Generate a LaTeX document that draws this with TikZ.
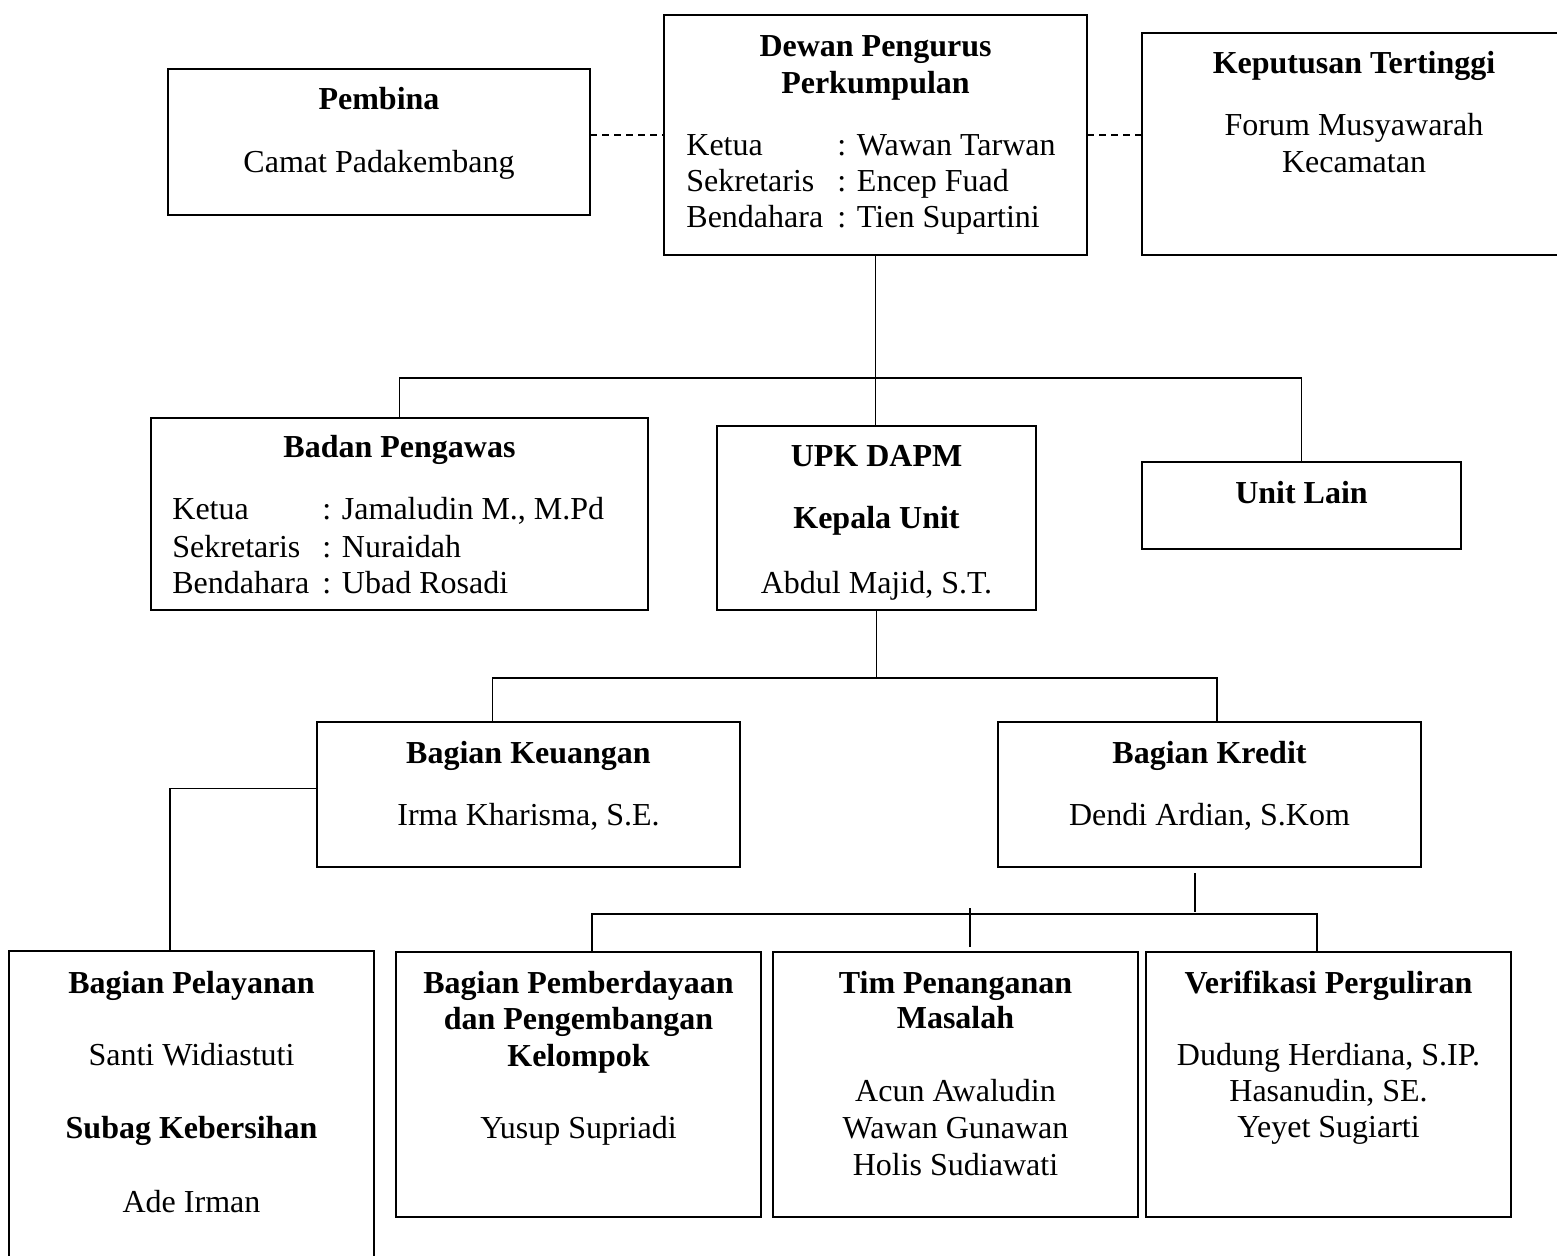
\documentclass[tikz,border=0pt]{standalone}
\usepackage{fontspec}
\setmainfont{Liberation Serif}
\usetikzlibrary{fit,calc}
\begin{document}
\begin{tikzpicture}[x=0.5pt,y=-0.5pt,
  font=\fontsize{16}{18.5}\selectfont,
  box/.style={draw, line width=1.1pt, inner sep=0pt, outer sep=0pt},
  conn/.style={line width=0.9pt},
  dashline/.style={line width=0.9pt, dash pattern=on 3.5pt off 2.5pt},
  t/.style={anchor=base, inner sep=0pt},
  tb/.style={anchor=base, inner sep=0pt, font=\fontsize{16}{18.5}\selectfont\bfseries},
  tl/.style={anchor=base west, inner sep=0pt}]
\useasboundingbox (0,0) rectangle (1557,1256);
\clip (0,0) rectangle (1557,1256);
% boxes
\node[box, fit={(168,69)(590,215)}] (pembina) {};
\node[box, fit={(664,15)(1087,255)}] (dewan) {};
\node[box, fit={(1142,33)(1566,255)}] (kep) {};
\node[box, fit={(151,418)(648,610)}] (badan) {};
\node[box, fit={(717,426)(1036,610)}] (upk) {};
\node[box, fit={(1142,462)(1461,549)}] (unit) {};
\node[box, fit={(317,722)(740,867)}] (keu) {};
\node[box, fit={(998,722)(1421,867)}] (kredit) {};
\node[box, fit={(9,951)(374,1280)}] (pel) {};
\node[box, fit={(396,952)(761,1217)}] (pemb) {};
\node[box, fit={(773,952)(1138,1217)}] (tim) {};
\node[box, fit={(1146,952)(1511,1217)}] (verif) {};
% texts
\node[tb] (pembinaT) at (379,110) {Pembina};
\node[t] (pembinaN) at (379,173) {Camat Padakembang};
\node[tb] (dewanT1) at (875.5,57) {Dewan Pengurus};
\node[tb] (dewanT2) at (875.5,94) {Perkumpulan};
\node[tl] (dl1) at (686,156) {Ketua};
\node[tl] (dv1) at (837,156) {: Wawan Tarwan};
\node[tl] (dl2) at (686,192) {Sekretaris};
\node[tl] (dv2) at (837,192) {: Encep Fuad};
\node[tl] (dl3) at (686,228) {Bendahara};
\node[tl] (dv3) at (837,228) {: Tien Supartini};
\node[tb] (kepT) at (1354,74) {Keputusan Tertinggi};
\node[t] (kepN1) at (1354,136) {Forum Musyawarah};
\node[t] (kepN2) at (1354,173) {Kecamatan};
\node[tb] (badanT) at (399.5,458) {Badan Pengawas};
\node[tl] (bl1) at (172,520) {Ketua};
\node[tl] (bv1) at (322,520) {: Jamaludin M., M.Pd};
\node[tl] (bl2) at (172,557) {Sekretaris};
\node[tl] (bv2) at (322,557) {: Nuraidah};
\node[tl] (bl3) at (172,593) {Bendahara};
\node[tl] (bv3) at (322,593) {: Ubad Rosadi};
\node[tb] (upkT1) at (876.5,467) {UPK DAPM};
\node[tb] (upkT2) at (876.5,529) {Kepala Unit};
\node[t] (upkN) at (876.5,593) {Abdul Majid, S.T.};
\node[tb] (unitT) at (1301.5,503) {Unit Lain};
\node[tb] (keuT) at (528.5,763) {Bagian Keuangan};
\node[t] (keuN) at (528.5,825) {Irma Kharisma, S.E.};
\node[tb] (kreT) at (1209.5,763) {Bagian Kredit};
\node[t] (kreN) at (1209.5,825) {Dendi Ardian, S.Kom};
\node[tb] (pelT) at (191.5,993) {Bagian Pelayanan};
\node[t] (pelN) at (191.5,1065) {Santi Widiastuti};
\node[tb] (pelT2) at (191.5,1138) {Subag Kebersihan};
\node[t] (pelN2) at (191.5,1212) {Ade Irman};
\node[tb] (pembT1) at (578.5,993) {Bagian Pemberdayaan};
\node[tb] (pembT2) at (578.5,1029) {dan Pengembangan};
\node[tb] (pembT3) at (578.5,1066) {Kelompok};
\node[t] (pembN) at (578.5,1138) {Yusup Supriadi};
\node[tb] (timT1) at (955.5,993) {Tim Penanganan};
\node[tb] (timT2) at (955.5,1028) {Masalah};
\node[t] (timN1) at (955.5,1101) {Acun Awaludin};
\node[t] (timN2) at (955.5,1138) {Wawan Gunawan};
\node[t] (timN3) at (955.5,1175) {Holis Sudiawati};
\node[tb] (verT) at (1328.5,993) {Verifikasi Perguliran};
\node[t] (verN1) at (1328.5,1065) {Dudung Herdiana, S.IP.};
\node[t] (verN2) at (1328.5,1101) {Hasanudin, SE.};
\node[t] (verN3) at (1328.5,1137) {Yeyet Sugiarti};
% connectors
\draw[dashline] (pembina.east |- dewan.west) -- (dewan.west);
\draw[dashline] (dewan.east) -- (dewan.east -| kep.west);
\draw[conn] (dewan.south) -- (dewan.south |- upk.north);
\draw[conn] (badan.north) -- ++(0,-40) -| (unit.north);
\draw[conn] (upk.south) -- ++(0,68);
\draw[conn] ([xshift=-18pt]keu.north) -- ++(0,-44) -| ([xshift=3.75pt]kredit.north);
\draw[conn] ([yshift=3pt]keu.west) -| ([xshift=-10.75pt]pel.north);
\draw[conn] ([xshift=-7.25pt,yshift=-3pt]kredit.south) -- ++(0,39);
\draw[conn] ([xshift=6.75pt]pemb.north) -- ++(0,-38) -| ([xshift=-5.75pt]verif.north);
\draw[conn] ([xshift=7.25pt,yshift=2.5pt]tim.north) -- ++(0,-39);
\end{tikzpicture}
\end{document}
